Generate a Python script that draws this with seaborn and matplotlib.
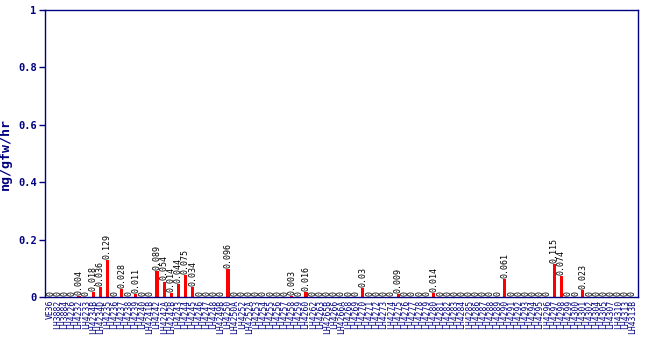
import numpy as np
import pandas as pd
import seaborn as sns
import matplotlib
matplotlib.use("Agg")
import matplotlib.pyplot as plt

labels = ["VE36", "LH3882", "LH3884", "LH4226", "LH4232", "LH4233", "LH4234B", "LH4234D",
          "LH4235", "LH4236", "LH4237", "LH4238", "LH4239", "LH4240", "LH4241B", "LH4242",
          "LH4242A", "LH4242B", "LH4243", "LH4244", "LH4245", "LH4246", "LH4247", "LH4248",
          "LH4249B", "LH4250", "LH4250A", "LH4252", "LH4252A", "LH4253", "LH4254", "LH4255",
          "LH4256", "LH4257", "LH4258", "LH4259", "LH4260", "LH4262", "LH4263", "LH4265B",
          "LH4266", "LH4266A", "LH4268", "LH4269", "LH4270", "LH4271", "LH4272", "LH4273",
          "LH4274", "LH4275", "LH4276", "LH4277", "LH4278", "LH4279", "LH4280", "LH4281",
          "LH4282", "LH4283", "LH4284", "LH4285", "LH4286", "LH4287", "LH4288", "LH4289",
          "LH4290", "LH4291", "LH4292", "LH4293", "LH4294", "LH4295", "LH4296", "LH4297",
          "LH4298", "LH4299", "LH4300", "LH4301", "LH4302", "LH4304", "LH4305", "LH4307",
          "LH4310", "LH4313", "LH4313B"]

values = [0, 0, 0, 0, 0.004, 0, 0.018, 0.036, 0.129, 0, 0.028, 0, 0.011, 0, 0,
          0.089, 0.054, 0.014, 0.044, 0.075, 0.034, 0, 0, 0, 0, 0.096, 0, 0, 0, 0,
          0, 0, 0, 0, 0.003, 0, 0.016, 0, 0, 0, 0, 0, 0, 0, 0.03, 0, 0, 0, 0,
          0.009, 0, 0, 0, 0, 0.014, 0, 0, 0, 0, 0, 0, 0, 0, 0, 0.061, 0, 0, 0, 0,
          0, 0, 0.115, 0.074, 0, 0, 0.023, 0, 0, 0, 0, 0, 0, 0]

value_text = ["0" if v == 0 else f"{v:g}" for v in values]

df = pd.DataFrame({"label": labels, "value": values})

navy = "#000080"
fig = plt.figure(figsize=(6.5, 3.5), dpi=100)
ax = fig.add_axes([45/650, 1 - 297/350, 593/650, 287/350])
sns.barplot(data=df, x="label", y="value", color="#ff0000", width=0.45,
            saturation=1, ax=ax, order=labels)

ax.set_ylim(0, 1)
ax.set_xlim(-0.8, len(labels) - 0.2)
ax.set_yticks([0, 0.2, 0.4, 0.6, 0.8, 1.0])
ax.set_yticklabels(["0", "0.2", "0.4", "0.6", "0.8", "1"], fontfamily="DejaVu Sans Mono",
                   fontweight="bold", fontsize=7.5, color=navy)
ax.set_xticks(range(len(labels)))
ax.set_xticklabels(labels, rotation=90, fontfamily="DejaVu Sans Mono", fontsize=5.8,
                   color=navy)
ax.tick_params(axis="x", length=0, pad=2)
ax.tick_params(axis="y", length=4, color=navy, width=1, pad=2)
ax.set_xlabel("")
ax.set_ylabel("ng/gfw/hr", fontfamily="DejaVu Sans Mono", fontweight="bold",
              fontsize=9.5, color=navy, labelpad=4)
for s in ax.spines.values():
    s.set_color(navy)
    s.set_linewidth(1)

for i, (v, t) in enumerate(zip(values, value_text)):
    ax.text(i, v + 0.004, t, rotation=90, ha="center", va="bottom",
            fontfamily="DejaVu Sans Mono", fontsize=6, color="black")

fig.savefig("out.png", dpi=100)
